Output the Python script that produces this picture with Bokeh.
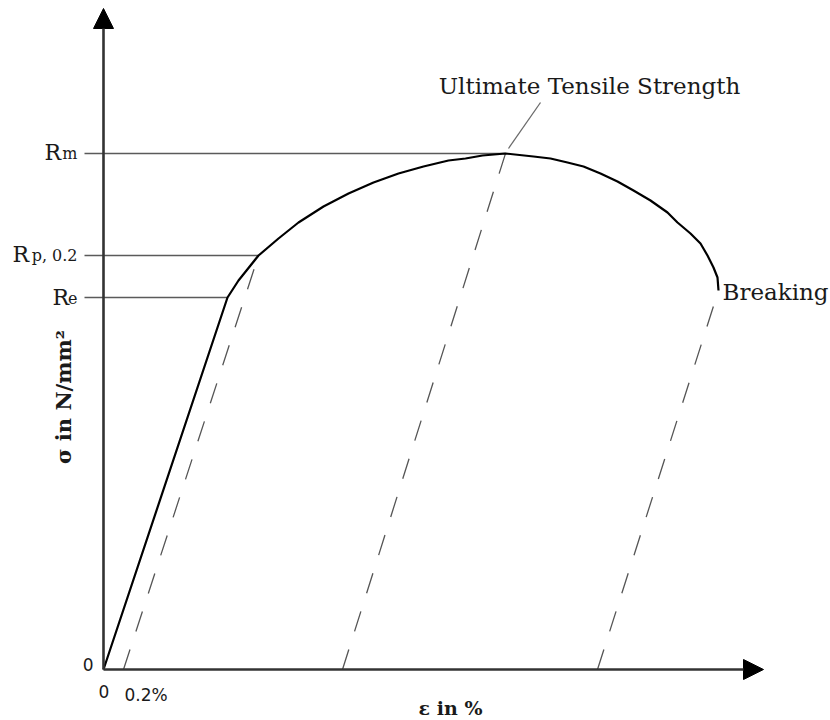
import math
from bokeh.plotting import figure
from bokeh.models import Range1d, Arrow, NormalHead
from bokeh.core.properties import value
from bokeh.embed import file_html
from bokeh.resources import INLINE

# ---- data (strain in %, stress in N/mm^2) ----
strain = [0.00, 1.24, 1.35, 1.55, 1.75, 1.95, 2.20, 2.45, 2.70, 2.95, 3.20, 3.45,
          3.62, 3.79, 4.02, 4.30, 4.47, 4.64, 4.80, 4.97, 5.14, 5.30, 5.47,
          5.64, 5.74, 5.87, 5.97, 6.04, 6.10, 6.14, 6.15]
stress = [0, 372, 389, 414, 431, 447, 463, 476, 487, 496, 503, 509,
          511, 514, 516, 513, 511, 507, 503, 496, 488, 479, 469,
          457, 447, 436, 426, 414, 402, 392, 379]

Re = 372
Rp02 = 414
Rm = 516
level_values = [Rm, Rp02, Re]
level_end_x = [4.02, 1.55, 1.24]
level_main = ["R", "R", "R"]
level_sub = ["m", "p, 0.2", "e"]

# unloading (offset) lines: start on strain axis, end on the curve
unload_x0 = [0.2, 2.39, 4.94]
unload_x1 = [1.55, 4.02, 6.15]
unload_y1 = [414, 516, 379]

xtick_values = [0, 0.2]
xtick_labels = ["0", "0.2%"]
ytick_values = [0]
ytick_labels = ["0"]

x_axis_end = 6.60
y_axis_end = 661

SERIF = value("DejaVu Serif")
SANS = value("DejaVu Sans")
INK = "#1a1a1a"

p = figure(width=830, height=720, output_backend="svg", toolbar_location=None,
           x_range=Range1d(-1.03, 7.27), y_range=Range1d(-51, 669),
           x_axis_location=None, y_axis_location=None,
           min_border=0, min_border_left=0, min_border_right=0,
           min_border_top=0, min_border_bottom=0)
p.outline_line_color = None
p.xgrid.visible = False
p.ygrid.visible = False
p.background_fill_color = "white"
p.border_fill_color = "white"

# reference levels (Rm, Rp0.2, Re)
p.segment(x0=[-0.19] * 3, y0=level_values, x1=level_end_x, y1=level_values,
          line_color="#5a5a5a", line_width=1.6)

# unloading dashed lines
p.segment(x0=unload_x0, y0=[0] * 3, x1=unload_x1, y1=unload_y1,
          line_color="#555555", line_width=1.3, line_dash="21 19")

# stress-strain curve
p.line(strain, stress, line_color="black", line_width=2.2, line_join="round")

# leader line for Ultimate Tensile Strength
p.segment(x0=[level_end_x[0] + 0.03], y0=[Rm + 5], x1=[level_end_x[0] + 0.35], y1=[Rm + 51],
          line_color="#6a6a6a", line_width=1.3)

# axes with arrows
for xe, ye in [(x_axis_end, 0), (0, y_axis_end)]:
    p.add_layout(Arrow(x_start=0, y_start=0, x_end=xe, y_end=ye,
                       line_color="#333333", line_width=2.6,
                       end=NormalHead(size=20, fill_color="black", line_color="black", line_width=1)))

# y level labels
p.text(x=[0, 0, 0], y=level_values, text=level_main, text_font=SERIF,
       text_font_size="22px", text_color=INK, text_align="left",
       text_baseline="alphabetic", x_offset=[-59, -91, -51], y_offset=[-1, -1, 0])
p.text(x=[0, 0, 0], y=level_values, text=level_sub, text_font=SERIF,
       text_font_size="16px", text_color=INK, text_align="right",
       text_baseline="alphabetic", x_offset=[-26, -26, -26], y_offset=[0, 0, 0])

# tick labels
p.text(x=xtick_values, y=[0, 0], text=xtick_labels, text_font=SANS,
       text_font_size="17px", text_color=INK, text_align="left",
       text_baseline="top", x_offset=[-5, 1], y_offset=[15, 15])
p.text(x=[0], y=ytick_values, text=ytick_labels, text_font=SANS,
       text_font_size="17px", text_color=INK, text_align="right",
       text_baseline="middle", x_offset=[-10], y_offset=[-5])

# annotations
p.text(x=[level_end_x[0]], y=[Rm], text=["Ultimate Tensile Strength"], text_font=SERIF,
       text_font_size="23px", text_color=INK, text_align="center",
       text_baseline="alphabetic", x_offset=[84], y_offset=[-68])
p.text(x=[unload_x1[2]], y=[unload_y1[2]], text=["Breaking"], text_font=SERIF,
       text_font_size="23px", text_color=INK, text_align="left",
       text_baseline="alphabetic", x_offset=[4], y_offset=[1])

# axis titles
p.text(x=[x_axis_end / 2 + 0.17], y=[0], text=["ε in %"], text_font=SERIF,
       text_font_size="19px", text_font_style="bold", text_color=INK,
       text_align="center", text_baseline="middle", y_offset=[38])
p.text(x=[0], y=[y_axis_end / 2 - 58], text=["σ in N/mm²"], text_font=SERIF,
       text_font_size="21px", text_font_style="bold", text_color=INK,
       text_align="center", text_baseline="middle", x_offset=[-40], angle=math.pi / 2)

open("out.html", "w").write(file_html(p, INLINE))
